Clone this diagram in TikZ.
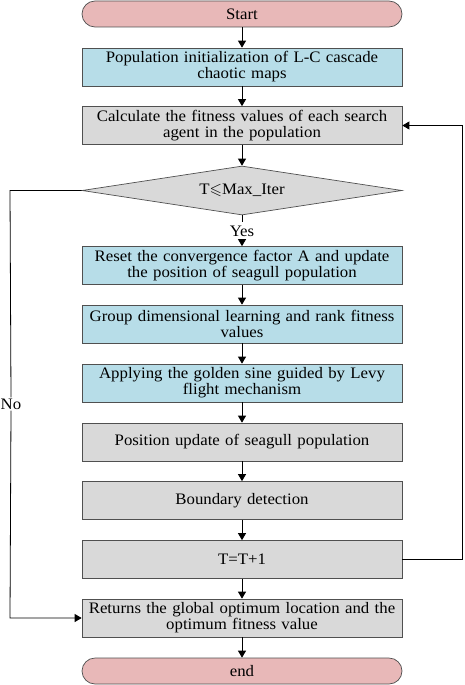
\documentclass[tikz,border=0pt]{standalone}
\usepackage{amssymb}
\usepackage{fontspec}
\setmainfont[FakeStretch=1.05]{Liberation Serif}
\usetikzlibrary{shapes.geometric,arrows.meta}
\definecolor{pinkfill}{RGB}{232,184,184}
\definecolor{bluefill}{RGB}{183,221,232}
\definecolor{grayfill}{RGB}{217,217,217}
\definecolor{edge}{RGB}{80,80,80}
\begin{document}
\begin{tikzpicture}[x=1pt,y=-1pt,
  font=\fontsize{16}{16}\selectfont,
  base/.style={draw=edge,line width=0.7pt,minimum width=320pt,text width=316pt,align=center,inner sep=0pt},
  term/.style={base,fill=pinkfill,rounded corners=13pt,minimum height=26pt},
  bluebox/.style={base,fill=bluefill,minimum height=38pt},
  graybox/.style={base,fill=grayfill,minimum height=38pt},
  decision/.style={draw=edge,line width=0.7pt,fill=grayfill,diamond,aspect=6.5,minimum width=320pt,minimum height=49pt,inner sep=0pt},
  arr/.style={line width=0.8pt,-{Triangle[length=7pt,width=8pt]}},
  ln/.style={line width=0.8pt}]
\useasboundingbox (0,0) rectangle (464,685);
\node[term] (start) at (242,14) {Start};
\node[bluebox] (b1) at (242,67) {Population initialization of L-C cascade\\chaotic maps};
\node[graybox] (b2) at (242,125.5) {Calculate the fitness values of each search\\agent in the population};
\node[decision] (d) at (242,190.5) {T$\leqslant$Max\_Iter};
\node (yes) at (242,231) {Yes};
\node[bluebox] (b3) at (242,265.5) {Reset the convergence factor A and update\\the position of seagull population};
\node[bluebox] (b4) at (242,324) {Group dimensional learning and rank fitness\\values};
\node[bluebox] (b5) at (242,383) {Applying the golden sine guided by Levy\\flight mechanism};
\node[graybox] (b6) at (242,442) {Position update of seagull population};
\node[graybox] (b7) at (242,500.5) {Boundary detection};
\node[graybox] (b8) at (242,559.5) {T=T+1};
\node[graybox] (b9) at (242,618) {Returns the global optimum location and the\\optimum fitness value};
\node[term] (end) at (242,671) {end};
\coordinate (l1) at (10,190.5);
\coordinate (l2) at (10,618);
\coordinate (r1) at (462.5,559.5);
\coordinate (r2) at (462.5,125.5);
\node[fill=white,inner sep=1pt] (no) at (11,404) {No};
\draw[arr] (start) -- (b1);
\draw[arr] (b1) -- (b2);
\draw[arr] (b2) -- (d);
\draw[ln] (d.south) -- (yes.north);
\draw[arr] (yes.south) -- (b3);
\draw[arr] (b3) -- (b4);
\draw[arr] (b4) -- (b5);
\draw[arr] (b5) -- (b6);
\draw[arr] (b6) -- (b7);
\draw[arr] (b7) -- (b8);
\draw[arr] (b8) -- (b9);
\draw[arr] (b9) -- (end);
\draw[ln] (d.west) -- (l1) -- (no.north);
\draw[arr] (no.south) -- (l2) -- (b9.west);
\draw[arr] (b8.east) -- (r1) -- (r2) -- (b2.east);
\end{tikzpicture}
\end{document}
